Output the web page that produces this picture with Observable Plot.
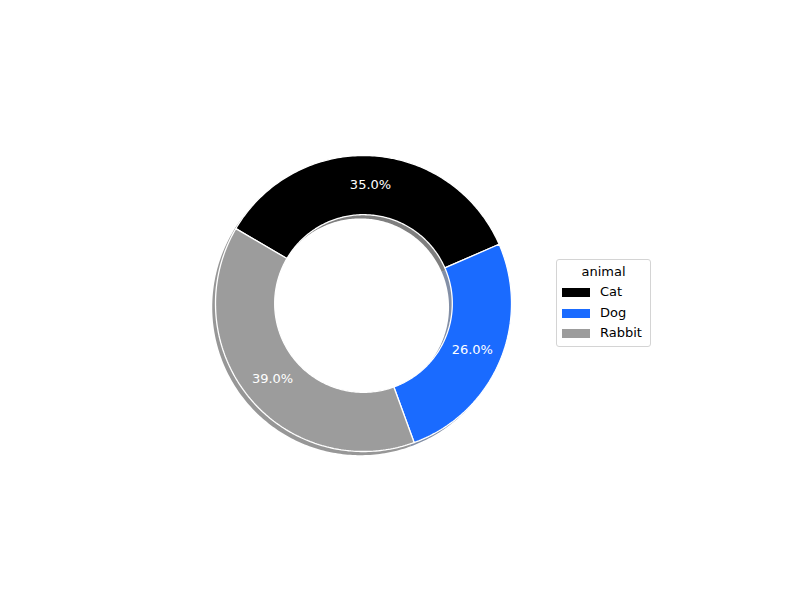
<!DOCTYPE html>
<html>
<head>
<meta charset="utf-8">
<script src="https://cdn.jsdelivr.net/npm/d3@7"></script>
<script src="https://cdn.jsdelivr.net/npm/@observablehq/plot@0.6"></script>
<style>
  body { margin: 0; background: #fff; font-family: "DejaVu Sans", sans-serif; }
  #wrap { position: relative; width: 800px; height: 600px; }
  #legend {
    position: absolute; left: 556px; top: 259px; width: 93px; height: 86px;
    border: 1px solid #d4d4d4; border-radius: 3px; background: #fff;
    font-family: "DejaVu Sans", sans-serif; font-size: 13px; color: #000;
  }
  #legend .title { text-align: center; margin-top: 4px; height: 19px; }
  #legend .row { position: relative; height: 20.5px; }
  #legend .sw { position: absolute; left: 5px; top: 5px; width: 28px; height: 9px; }
  #legend .lab { position: absolute; left: 43px; top: 1px; }
</style>
</head>
<body>
<div id="wrap"></div>
<script>
const animals = ["Cat", "Dog", "Rabbit"];
const shares = [35, 26, 39];
const colors = ["#000000", "#1a6bff", "#9c9c9c"];
const legendTitle = "animal";

const startDeg = 149.6;      // slices run clockwise from here
const innerR = 0.6;          // wedge width 0.4
const pctR = 0.8;
const shadowOff = [-0.022, -0.025];

const total = d3.sum(shares);
const slices = [];
const labels = [];
let acc = 0;
animals.forEach((a, i) => {
  const a0 = (startDeg - acc / total * 360) * Math.PI / 180;
  acc += shares[i];
  const a1 = (startDeg - acc / total * 360) * Math.PI / 180;
  const n = Math.max(8, Math.round(Math.abs(a1 - a0) * 60));
  const pts = [];
  for (let k = 0; k <= n; k++) {
    const t = a0 + (a1 - a0) * k / n;
    pts.push({x: Math.cos(t), y: Math.sin(t)});
  }
  for (let k = n; k >= 0; k--) {
    const t = a0 + (a1 - a0) * k / n;
    pts.push({x: innerR * Math.cos(t), y: innerR * Math.sin(t)});
  }
  pts.push(pts[0]);
  pts.forEach((p, j) => slices.push({animal: a, color: colors[i], x: p.x, y: p.y, order: j}));
  const m = (a0 + a1) / 2;
  labels.push({animal: a, x: pctR * Math.cos(m), y: pctR * Math.sin(m),
               text: (shares[i] / total * 100).toFixed(1) + "%"});
});

function darken(c) {
  const r = d3.rgb(c);
  return d3.rgb(r.r * 0.3, r.g * 0.3, r.b * 0.3).formatHex();
}
const shadows = slices.map(d => ({...d, x: d.x + shadowOff[0], y: d.y + shadowOff[1], color: darken(d.color)}));

const R = 148, cx = 363, cy = 303, W = 800, H = 600;
const chart = Plot.plot({
  width: W, height: H, margin: 0,
  x: {domain: [-cx / R, (W - cx) / R], axis: null},
  y: {domain: [-(H - cy) / R, cy / R], axis: null},
  style: {background: "white", fontFamily: "DejaVu Sans, sans-serif"},
  marks: [
    Plot.line(shadows, {x: "x", y: "y", z: "animal", fill: "color", fillOpacity: 0.5,
                        stroke: "none", curve: "linear"}),
    Plot.line(slices, {x: "x", y: "y", z: "animal", fill: "color", stroke: "white",
                       strokeWidth: 1.3, strokeLinejoin: "miter", curve: "linear"}),
    Plot.text(labels, {x: "x", y: "y", text: "text", fill: "white", fontSize: 13,
                       fontFamily: "DejaVu Sans, sans-serif"})
  ]
});
const wrap = document.getElementById("wrap");
wrap.appendChild(chart);

const lg = document.createElement("div");
lg.id = "legend";
let html = `<div class="title">${legendTitle}</div>`;
animals.forEach((a, i) => {
  html += `<div class="row"><div class="sw" style="background:${colors[i]}"></div><div class="lab">${a}</div></div>`;
});
lg.innerHTML = html;
wrap.appendChild(lg);
</script>
</body>
</html>
